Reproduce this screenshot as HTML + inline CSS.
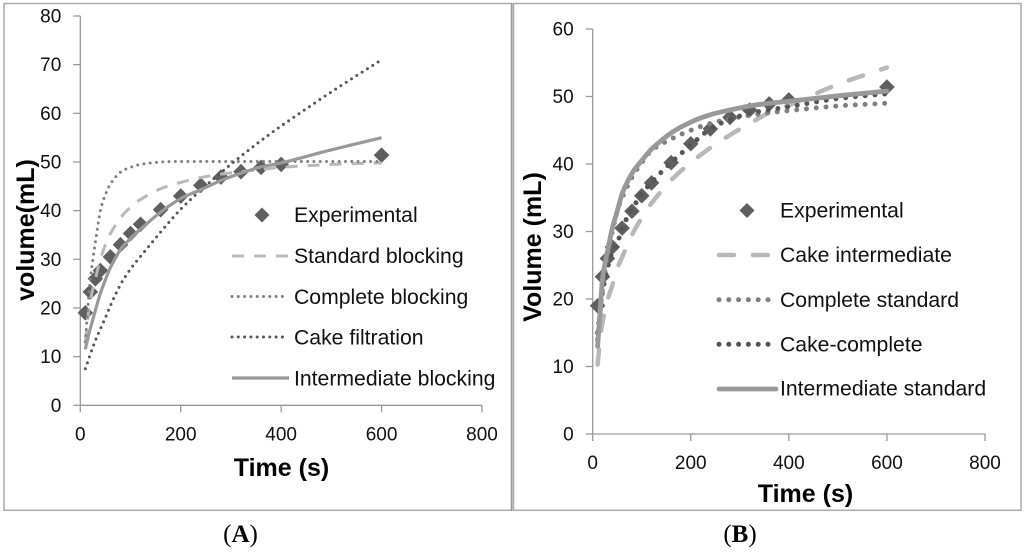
<!DOCTYPE html>
<html lang="en">
<head>
<meta charset="utf-8">
<title>Filtrate volume versus time model fits</title>
<style>
html,body{margin:0;padding:0;background:#fff;width:1024px;height:552px;overflow:hidden}
svg{display:block;filter:blur(.35px)}
text{font-family:"Liberation Sans",sans-serif;fill:#111}
.tick{font-size:19px}
.legend{font-size:21.2px}
.title{font-size:25px;font-weight:bold;fill:#000}
.cap{font-family:"Liberation Serif",serif;font-size:25px;fill:#000}
</style>
</head>
<body>
<svg id="figure" xmlns="http://www.w3.org/2000/svg" width="1024" height="552" viewBox="0 0 1024 552">
  <rect x="4" y="3.5" width="507.7" height="506.8" fill="none" stroke="#aaa" stroke-width="1.5"/>
  <rect x="513.5" y="3.5" width="507.5" height="506.8" fill="none" stroke="#aaa" stroke-width="1.5"/>
  <line x1="511.5" y1="3" x2="511.5" y2="511" stroke="#999" stroke-width="1.5"/>

  <text class="title" transform="translate(34,230) rotate(-90)" text-anchor="middle">volume(mL)</text>
  <text class="title" x="281.5" y="476" text-anchor="middle">Time (s)</text>
  <text class="title" transform="translate(541,247) rotate(-90)" text-anchor="middle">Volume (mL)</text>
  <text class="title" x="805.5" y="502" text-anchor="middle">Time (s)</text>

  <g id="legend-a">
    <path d="M262 207.500 L269.500 215 L262 222.500 L254.500 215 Z" fill="#5f5f5f"/>
    <text class="legend" x="294" y="222">Experimental</text>
    <line x1="232" y1="256" x2="289" y2="256" stroke="#b8b8b8" stroke-width="3" stroke-dasharray="12 10"/>
    <text class="legend" x="294" y="263">Standard blocking</text>
    <line x1="232" y1="296.500" x2="286" y2="296.500" stroke="#808080" stroke-width="3" stroke-linecap="round" stroke-dasharray="0 6.300"/>
    <text class="legend" x="294" y="304">Complete blocking</text>
    <line x1="232" y1="337" x2="286" y2="337" stroke="#555" stroke-width="3" stroke-linecap="round" stroke-dasharray="0 6.300"/>
    <text class="legend" x="294" y="344.500">Cake filtration</text>
    <line x1="232" y1="378" x2="289" y2="378" stroke="#999" stroke-width="3.200"/>
    <text class="legend" x="294" y="385.500">Intermediate blocking</text>
  </g>

  <g id="legend-b">
    <path d="M747 203 L754.500 210.500 L747 218 L739.500 210.500 Z" fill="#5f5f5f"/>
    <text class="legend" x="780" y="217.500">Experimental</text>
    <line x1="719" y1="255" x2="776" y2="255" stroke="#b8b8b8" stroke-width="4.500" stroke-linecap="round" stroke-dasharray="15 19"/>
    <text class="legend" x="780" y="262">Cake intermediate</text>
    <line x1="719" y1="299.700" x2="772" y2="299.700" stroke="#808080" stroke-width="5" stroke-linecap="round" stroke-dasharray="0 9.800"/>
    <text class="legend" x="780" y="307">Complete standard</text>
    <line x1="719" y1="344.300" x2="772" y2="344.300" stroke="#555" stroke-width="5" stroke-linecap="round" stroke-dasharray="0 9.800"/>
    <text class="legend" x="780" y="351.500">Cake-complete</text>
    <line x1="719" y1="389" x2="776" y2="389" stroke="#999" stroke-width="4.800" stroke-linecap="round"/>
    <text class="legend" x="780" y="395.500">Intermediate standard</text>
  </g>

  <text class="cap" x="240.500" y="542" text-anchor="middle">(<tspan font-weight="bold">A</tspan>)</text>
  <text class="cap" x="740" y="542" text-anchor="middle">(<tspan font-weight="bold">B</tspan>)</text>
</svg>
<script>
var expTimes = [10,20,30,40,60,80,100,120,160,200,240,280,320,360,400,600];
var expVolumes = [19,23.3,26,27.7,30.5,33,35.3,37.2,40.2,43,45.2,46.9,48,48.9,49.5,51.4];
var modelTimes = [10,15,20,30,40,50,60,80,100,120,160,200,240,280,320,360,400,500,600];

var standardBlocking = [13,18,21.5,26,30,33,35.3,38.5,40.7,42.3,44.5,45.8,46.8,47.5,48,48.5,48.9,49.5,49.8];
var completeBlocking = [13,20,26,33.5,40,43.3,45.5,47.9,48.9,49.5,50,50.1,50.1,50.1,50.1,50.1,50.1,50.1,50.1];
var cakeFiltration = [7.5,9,10.5,13.3,15.7,18,20.5,24.8,28,30.6,35.6,40.3,44.2,47.8,51.2,54.4,57.4,64.4,71];
var intermediateBlocking = [11.5,13.8,15.8,19.5,23,25.8,28.3,32,34.3,36.2,39.7,42.5,44.3,46.2,47.7,49,49.8,52.5,55];

var cakeIntermediate = [10.3,14,16.5,19.8,22,24.5,26.2,29.5,32,34.2,37.6,40.2,42.4,44.3,46,47.6,48.7,51.8,54.3];
var completeStandard = [14,18,21.5,26.5,30,33,35,38,40.2,42,43.7,45,46,46.7,47.2,47.6,47.9,48.6,49];
var cakeComplete = [15,18,21,24.5,27,28.2,30.5,33.3,35.5,37.3,40.2,42.8,45.2,46.6,47.5,48,48.5,49.7,50.4];
var intermediateStandard = [13,18,23,27,30.5,33,35.6,38.6,40.5,42.2,44.6,46.2,47.3,48,48.6,49,49.3,50.1,50.8];

var xTicks = [0,200,400,600,800];
var yTicksA = [0,10,20,30,40,50,60,70,80];
var yTicksB = [0,10,20,30,40,50,60];

var NS = 'http://www.w3.org/2000/svg';
var root = document.getElementById('figure');

function node(parent, tag, attrs) {
  var el = document.createElementNS(NS, tag);
  for (var k in attrs) el.setAttribute(k, attrs[k]);
  parent.appendChild(el);
  return el;
}

function smoothPath(xs, ys, sx, sy) {
  var n = xs.length;
  var slope = function (i) {
    var a = Math.max(i - 1, 0), b = Math.min(i + 1, n - 1);
    return (ys[b] - ys[a]) / (xs[b] - xs[a]);
  };
  var d = 'M' + sx(xs[0]).toFixed(2) + ' ' + sy(ys[0]).toFixed(2);
  for (var i = 0; i < n - 1; i++) {
    var dt = (xs[i + 1] - xs[i]) / 3;
    d += 'C' + sx(xs[i] + dt).toFixed(2) + ' ' + sy(ys[i] + slope(i) * dt).toFixed(2) + ' ' +
         sx(xs[i + 1] - dt).toFixed(2) + ' ' + sy(ys[i + 1] - slope(i + 1) * dt).toFixed(2) + ' ' +
         sx(xs[i + 1]).toFixed(2) + ' ' + sy(ys[i + 1]).toFixed(2);
  }
  return d;
}

function drawPanel(prefix, box, yMax, yTicks, series, before) {
  var sx = function (v) { return box.left + v / 800 * (box.right - box.left); };
  var sy = function (v) { return box.bottom - v / yMax * (box.bottom - box.top); };

  var g = node(root, 'g', {});
  
  
  root.insertBefore(g, before);

  var xAxis = node(g, 'line', {x1: sx(0), x2: sx(800), y1: sy(0), y2: sy(0), stroke: '#999', 'stroke-width': 1.3});
  
  
  var yAxis = node(g, 'line', {x1: sx(0), x2: sx(0), y1: sy(0), y2: sy(yMax), stroke: '#999', 'stroke-width': 1.3});
  
  

  xTicks.forEach(function (t) {
    var m = node(g, 'line', {x1: sx(t), x2: sx(t), y1: sy(0), y2: sy(0) + 7, stroke: '#999', 'stroke-width': 1.3});
    
    
    var l = node(g, 'text', {x: sx(t), y: sy(0) + 35, 'text-anchor': 'middle', 'class': 'tick'});
    
    
    l.textContent = t;
  });

  yTicks.forEach(function (t) {
    var m = node(g, 'line', {x1: sx(0) - 7, x2: sx(0), y1: sy(t), y2: sy(t), stroke: '#999', 'stroke-width': 1.3});
    
    
    var l = node(g, 'text', {x: sx(0) - 19, y: sy(t) + 6.5, 'text-anchor': 'end', 'class': 'tick'});
    
    
    l.textContent = t;
  });

  expTimes.forEach(function (t, i) {
    var cx = sx(t), cy = sy(expVolumes[i]), r = 7.8;
    var d = node(g, 'path', {
      d: 'M' + cx + ' ' + (cy - r) + 'L' + (cx + r) + ' ' + cy + 'L' + cx + ' ' + (cy + r) + 'L' + (cx - r) + ' ' + cy + 'Z',
      fill: '#5f5f5f'
    });
    
    
  });

  series.forEach(function (s) {
    var p = node(g, 'path', {
      d: smoothPath(modelTimes, s.values, sx, sy), fill: 'none', stroke: s.color, 'stroke-width': s.width,
      'stroke-linecap': s.cap, 'stroke-linejoin': 'round', 'stroke-dasharray': s.dash
    });
    
    
  });
}

drawPanel('panel-a', {left: 80.3, right: 482, top: 16, bottom: 405.3}, 80, yTicksA, [
  {name: 'standard-blocking', values: standardBlocking, color: '#b8b8b8', width: 3, cap: 'butt', dash: '12 10'},
  {name: 'complete-blocking', values: completeBlocking, color: '#808080', width: 3, cap: 'round', dash: '0 6.3'},
  {name: 'cake-filtration', values: cakeFiltration, color: '#555', width: 3, cap: 'round', dash: '0 6.3'},
  {name: 'intermediate-blocking', values: intermediateBlocking, color: '#999', width: 3.2, cap: 'butt', dash: 'none'}
], document.getElementById('legend-a'));

drawPanel('panel-b', {left: 592.7, right: 985, top: 29, bottom: 434}, 60, yTicksB, [
  {name: 'cake-intermediate', values: cakeIntermediate, color: '#b8b8b8', width: 4.5, cap: 'round', dash: '15 19'},
  {name: 'complete-standard', values: completeStandard, color: '#808080', width: 5, cap: 'round', dash: '0 9.8'},
  {name: 'cake-complete', values: cakeComplete, color: '#555', width: 5, cap: 'round', dash: '0 9.8'},
  {name: 'intermediate-standard', values: intermediateStandard, color: '#999', width: 4.8, cap: 'round', dash: 'none'}
], document.getElementById('legend-a'));
</script>
</body>
</html>
